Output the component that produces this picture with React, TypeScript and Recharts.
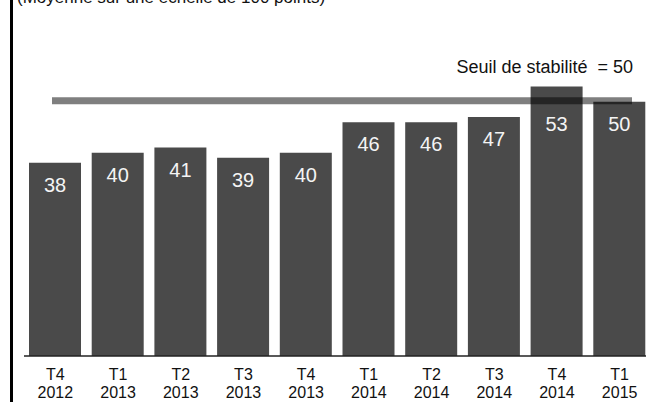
import React from "react";
import { BarChart, Bar, XAxis, YAxis, ReferenceLine, LabelList } from "recharts";

const quarters = ["T4", "T1", "T2", "T3", "T4", "T1", "T2", "T3", "T4", "T1"];
const years = ["2012", "2013", "2013", "2013", "2013", "2014", "2014", "2014", "2014", "2015"];
const scores = [38, 40, 41, 39, 40, 46, 46, 47, 53, 50];
const SEUIL = 50;
const seuilLabel = "Seuil de stabilité  = 50";
const subtitle = "(Moyenne sur une échelle de 100 points)";

const data = quarters.map((q, i) => ({
  name: `${q} ${years[i]}`,
  quarter: q,
  year: years[i],
  score: scores[i],
}));

const FONT = "'Liberation Sans', Arial, sans-serif";

function PeriodTick(props: any) {
  const { x, y, index } = props;
  return (
    <text x={x} y={y} textAnchor="middle" fill="#111" fontSize={16} fontFamily={FONT}>
      <tspan x={x} dy={24}>{quarters[index]}</tspan>
      <tspan x={x} dy={18}>{years[index]}</tspan>
    </text>
  );
}

function ScoreLabel(props: any) {
  const { x, y, width, height, value } = props;
  // push the label under the threshold line when the bar crosses it
  const shift = value > SEUIL ? ((value - SEUIL) * height) / value : 0;
  return (
    <text
      x={x + width / 2}
      y={y + shift + 29}
      textAnchor="middle"
      fill="#f4f4f4"
      fontSize={20}
      fontFamily={FONT}
    >
      {value}
    </text>
  );
}

function SeuilLine(props: any) {
  const { x1, x2, y1 } = props;
  return (
    <line x1={x1 + 28} x2={x2 - 19} y1={y1 - 1} y2={y1 - 1} stroke="rgba(0,0,0,0.5)" strokeWidth={7} />
  );
}

function SeuilLabel(props: any) {
  const { viewBox } = props;
  return (
    <text
      x={viewBox.x + viewBox.width - 18}
      y={viewBox.y - 29}
      textAnchor="end"
      fill="#111"
      fontSize={18}
      fontFamily={FONT}
      style={{ whiteSpace: "pre" }}
    >
      {seuilLabel}
    </text>
  );
}

export default function App() {
  return (
    <div
      style={{
        position: "absolute",
        left: 0,
        top: 0,
        width: 646,
        height: 402,
        overflow: "hidden",
        background: "#fff",
      }}
    >
      <div style={{ position: "absolute", left: 10, top: 0, width: 3, height: 402, background: "#000" }} />
      <div
        style={{
          position: "absolute",
          left: 17,
          top: -12,
          fontSize: 17,
          fontFamily: FONT,
          color: "#111",
          whiteSpace: "nowrap",
        }}
      >
        {subtitle}
      </div>
      <BarChart
        width={651}
        height={402}
        data={data}
        margin={{ top: 51, right: 0, bottom: 0, left: 24 }}
        barSize={52}
      >
        <XAxis
          dataKey="name"
          height={46}
          tickLine={false}
          tickSize={0}
          tickMargin={0}
          axisLine={{ stroke: "#222", strokeWidth: 1.5 }}
          tick={<PeriodTick />}
          interval={0}
        />
        <YAxis hide domain={[0, 60]} />
        <Bar dataKey="score" fill="#4a4a4a" isAnimationActive={false}>
          <LabelList dataKey="score" content={<ScoreLabel />} />
        </Bar>
        <ReferenceLine y={SEUIL} shape={<SeuilLine />} label={<SeuilLabel />} />
      </BarChart>
    </div>
  );
}
